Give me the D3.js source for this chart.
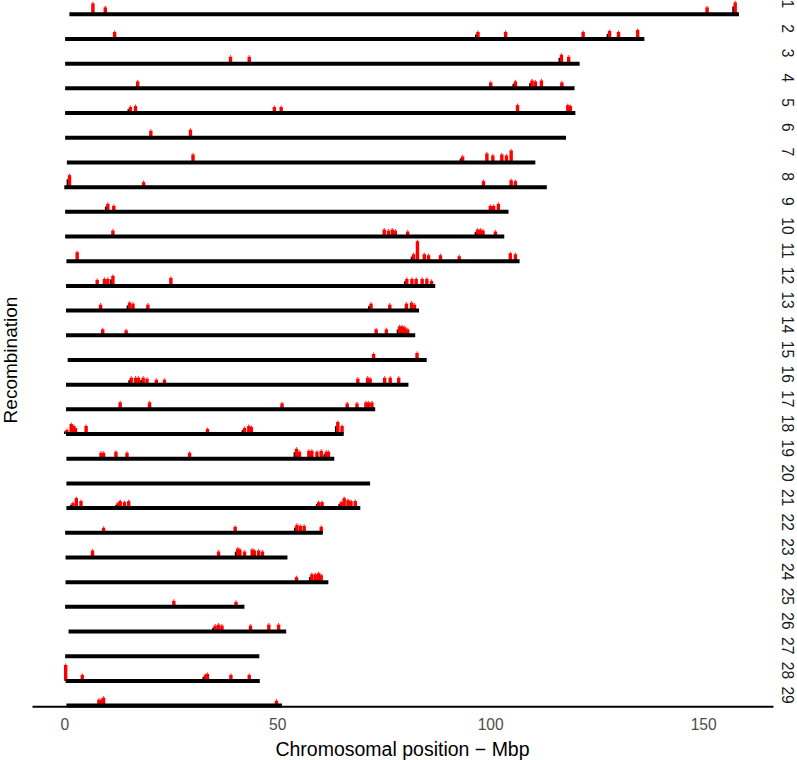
<!DOCTYPE html>
<html>
<head>
<meta charset="utf-8">
<script src="https://cdn.jsdelivr.net/npm/d3@7"></script>
<style>
  html, body { margin: 0; padding: 0; background: #ffffff; }
  svg { display: block; font-family: "Liberation Sans", Arial, sans-serif; }
</style>
</head>
<body>
<svg id="chart" width="797" height="760"></svg>
<script>
// ---------------- DATA ----------------
const chromosomes = ["1","2","3","4","5","6","7","8","9","10","11","12","13","14","15",
  "16","17","18","19","20","21","22","23","24","25","26","27","28","29"];

// chromosome start / end (Mbp)
const chromStart = [1.2,0.2,0.2,0.2,0.2,0.2,0.6,0.0,0.2,0.2,0.5,0.4,0.4,0.4,0.8,
  0.4,0.4,0.4,0.5,0.5,0.5,0.2,0.3,0.3,0.2,1.0,0.2,0.3,0.5];
const chromEnd = [158.4,136.2,121.0,119.8,120.0,117.8,110.6,113.3,104.3,103.3,106.9,87.1,83.3,82.4,85.1,
  80.8,73.0,65.6,63.4,71.8,69.5,60.7,52.4,62.0,42.3,52.1,45.8,45.9,51.1];

// recombination hotspot positions (Mbp) per chromosome
const hotspotPos = [
  [6.7,9.6,150.9,157.5],
  [11.8,97.1,103.6,121.8,128.0,130.1,134.6],
  [39.0,43.4,116.7,118.4],
  [17.2,100.1,105.9,109.8,110.6,112.0,116.8],
  [15.5,16.7,49.3,50.9,106.4,118.2,118.8],
  [20.3,29.6],
  [30.2,93.5,99.2,100.6,102.7,103.8,104.9],
  [1.2,18.6,98.4,104.9,105.9],
  [10.2,11.6,100.0,100.8,101.9],
  [11.4,75.1,76.1,77.0,77.7,80.6,97.0,97.7,98.3,101.2],
  [3.0,82.0,82.9,84.5,85.5,88.3,92.7,104.7,105.9],
  [7.7,9.4,10.2,11.4,25.0,80.4,81.6,82.6,84.0,85.1,86.2],
  [8.5,15.3,16.1,19.6,72.0,76.4,80.3,81.5,82.2],
  [9.0,14.5,73.2,75.6,78.7,79.3,79.9,80.6],
  [72.6,82.8],
  [15.7,16.7,17.4,18.5,19.4,21.6,23.5,68.9,71.2,71.8,75.2,76.5,78.5],
  [13.1,20.0,51.1,66.4,68.7,70.8,71.4,72.2],
  [0.6,1.6,2.2,2.6,5.1,33.6,42.3,43.3,43.9,64.2,65.2],
  [8.6,9.2,12.1,14.7,29.4,54.5,55.2,57.4,58.1,59.3,60.3,61.5,62.0],
  [],
  [2.0,2.8,3.9,12.6,13.1,14.1,15.1,59.7,60.5,65.0,65.7,66.6,67.3,68.3],
  [9.2,40.1,54.6,55.4,56.3,60.3],
  [6.6,36.2,40.7,41.2,42.3,44.1,44.6,45.6,46.5],
  [54.5,58.1,58.9,59.7,60.3],
  [25.7,40.3],
  [35.4,36.2,37.0,43.7,48.0,50.3],
  [],
  [0.3,4.2,33.1,33.6,39.1,43.4],
  [8.1,8.7,9.2,49.8]
];

// recombination signal height per hotspot
const hotspotHeight = [
  [11,7,7,12],
  [7,7,7,7,8,7,9],
  [7,7,9,7],
  [7,6,7,8,7,8,6],
  [6,7,6,6,8,8,7],
  [7,8],
  [8,6,9,7,8,7,12],
  [12,5,6,7,6],
  [8,6,6,6,8],
  [6,7,6,7,6,5,7,7,6,5],
  [9,7,20,7,6,6,5,8,7],
  [6,7,7,10,8,7,7,7,7,7,5],
  [6,8,7,6,7,6,7,8,6],
  [6,5,6,6,9,9,8,6],
  [6,7],
  [7,7,7,7,6,5,5,6,7,6,7,7,7],
  [7,7,6,6,6,7,7,7],
  [4,10,8,6,8,5,6,8,7,12,8],
  [6,6,7,6,6,10,7,8,8,7,8,7,7],
  [],
  [5,10,7,5,7,6,7,6,6,6,10,8,7,7],
  [5,6,8,7,7,6],
  [7,6,9,8,6,8,7,7,6],
  [5,8,8,9,7],
  [6,5],
  [6,7,6,6,7,7],
  [],
  [16,6,6,7,6,6],
  [6,6,8,5]
];

// hotspots with an accompanying (black) background signal
const hotspotBlack = [
  [0,0,0,1],
  [0,1,0,0,1,0,0],
  [0,0,1,0],
  [0,0,1,1,0,0,0],
  [1,0,0,0,0,0,0],
  [0,0],
  [0,1,0,0,0,0,0],
  [1,0,0,0,0],
  [1,0,0,0,0],
  [0,0,0,0,0,0,1,0,0,0],
  [0,1,0,0,0,0,0,0,0],
  [0,0,0,1,0,1,0,0,0,0,0],
  [0,1,0,0,1,0,0,0,0],
  [0,0,0,0,1,0,0,0],
  [0,0],
  [1,0,0,1,0,0,0,0,0,0,0,0,0],
  [0,0,0,0,0,0,0,0],
  [1,0,0,0,0,0,1,0,0,1,0],
  [0,0,0,0,0,1,0,0,1,0,0,1,0],
  [],
  [1,0,0,1,0,0,0,1,0,1,0,0,0,0],
  [0,0,1,0,0,0],
  [0,0,1,0,0,0,0,0,0],
  [0,1,0,0,0],
  [0,0],
  [1,0,0,0,0,0],
  [],
  [0,0,1,0,0,0],
  [0,0,0,0]
];

const xTicks = [0, 50, 100, 150];
const xTitle = "Chromosomal position \u2212 Mbp";
const yTitle = "Recombination";

// ---------------- CHART ----------------
const svg = d3.select("#chart");

const x = d3.scaleLinear().domain([-7.58, 166.4]).range([32, 773]);
const row = d3.scalePoint().domain(chromosomes).range([14.3, 705.6]);
const h = d3.scaleLinear().domain([0, 20]).range([0, 20]);

const panels = svg.append("g").selectAll("g.panel")
  .data(chromosomes)
  .join("g")
  .attr("class", "panel")
  .attr("transform", d => `translate(0,${row(d)})`);

panels.each(function(c, i) {
  const g = d3.select(this);
  const spots = hotspotPos[i].map((p, j) => ({p, v: hotspotHeight[i][j], b: hotspotBlack[i][j]}));
  g.selectAll("rect.black").data(spots.filter(s => s.b))
    .join("rect").attr("class", "black")
    .attr("x", s => x(s.p) - 2.8)
    .attr("width", 2.4)
    .attr("y", s => -h(s.v * 0.65))
    .attr("height", s => h(s.v * 0.65))
    .attr("fill", "#000");
  g.selectAll("rect.red").data(spots)
    .join("rect").attr("class", "red")
    .attr("x", s => x(s.p) - 1.6)
    .attr("width", 3.4)
    .attr("y", s => -h(s.v))
    .attr("height", s => h(s.v))
    .attr("fill", "#ff0000");
  g.selectAll("rect.redtip").data(spots)
    .join("rect").attr("class", "redtip")
    .attr("x", s => x(s.p) - 0.5)
    .attr("width", 1.2)
    .attr("y", s => -h(s.v) - 1.5)
    .attr("height", 1.5)
    .attr("fill", "#ff3333");
  g.append("line")
    .attr("x1", x(chromStart[i]))
    .attr("x2", x(chromEnd[i]))
    .attr("y1", 0).attr("y2", 0)
    .attr("stroke", "#000")
    .attr("stroke-width", 4);
  g.append("text")
    .attr("transform", `translate(787,-10.5) rotate(90)`)
    .attr("text-anchor", "middle")
    .attr("dominant-baseline", "central")
    .attr("font-size", 15.6)
    .attr("fill", "#1a1a1a")
    .text(c);
});

// x axis
const axis = svg.append("g")
  .attr("transform", "translate(0,706.3)")
  .call(d3.axisBottom(x).tickValues(xTicks).tickSize(0).tickSizeOuter(0).tickPadding(12.6));
axis.select(".domain").attr("stroke", "#000").attr("stroke-width", 2);
axis.selectAll(".tick text")
  .attr("font-size", 15.6)
  .attr("font-family", "Liberation Sans, Arial, sans-serif")
  .attr("fill", "#4d4d4d");
axis.lower();

// axis titles
svg.append("text")
  .attr("x", 402.5).attr("y", 755.5)
  .attr("text-anchor", "middle")
  .attr("font-size", 19.5)
  .attr("fill", "#000")
  .text(xTitle);

// y title: baseline placed so the glyph tops stay inside the left edge
svg.append("text")
  .attr("transform", "translate(16.5,360) rotate(-90)")
  .attr("text-anchor", "middle")
  .attr("font-size", 19)
  .attr("fill", "#000")
  .text(yTitle);
</script>
</body>
</html>
